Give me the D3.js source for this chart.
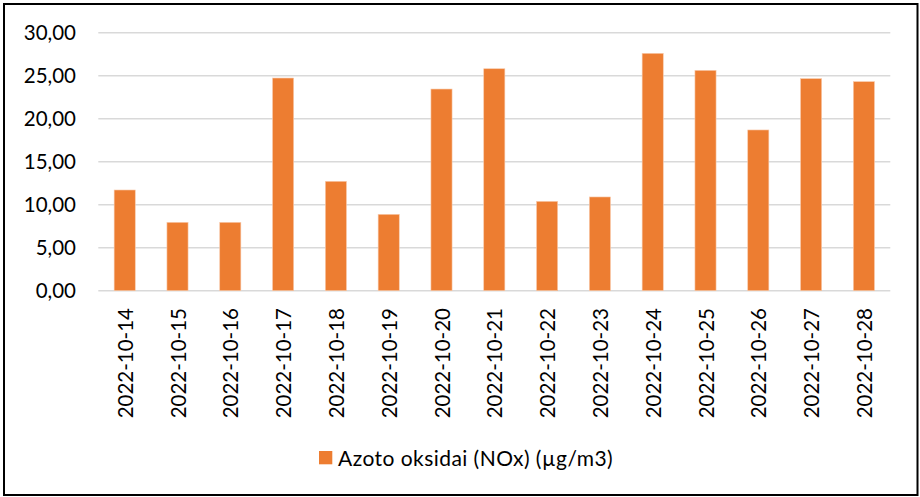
<!DOCTYPE html>
<html>
<head>
<meta charset="utf-8">
<script src="https://cdn.jsdelivr.net/npm/d3@7"></script>
<style>
  html, body { margin: 0; padding: 0; background: #fff; }
  svg { display: block; }
  text { font-family: Lato, "Open Sans", sans-serif; fill: #000; }
</style>
</head>
<body>
<svg id="chart" width="920" height="497"></svg>
<script>
const categories = ["2022-10-14","2022-10-15","2022-10-16","2022-10-17","2022-10-18","2022-10-19","2022-10-20","2022-10-21","2022-10-22","2022-10-23","2022-10-24","2022-10-25","2022-10-26","2022-10-27","2022-10-28"];
const values = [11.71, 7.95, 7.95, 24.73, 12.72, 8.88, 23.45, 25.81, 10.39, 10.90, 27.60, 25.62, 18.69, 24.66, 24.31];
const yTicks = [0, 5, 10, 15, 20, 25, 30];
const seriesName = "Azoto oksidai (NOx) (µg/m3)";
const barColor = "#ED7D31";

const svg = d3.select("#chart");
const plot = { left: 98.3, right: 890.3, top: 32.7, bottom: 290.7 };

// border
svg.append("rect")
  .attr("x", 4).attr("y", 4)
  .attr("width", 913.5).attr("height", 491)
  .attr("fill", "#fff").attr("stroke", "#000").attr("stroke-width", 2);

const x = d3.scaleBand().domain(categories)
  .range([plot.left, plot.right]).paddingInner(0.6).paddingOuter(0.3);
const y = d3.scaleLinear().domain([0, 30]).range([plot.bottom, plot.top]);

// gridlines
svg.append("g").selectAll("line").data(yTicks).join("line")
  .attr("x1", plot.left).attr("x2", plot.right)
  .attr("y1", d => y(d)).attr("y2", d => y(d))
  .attr("stroke", "#D9D9D9").attr("stroke-width", 1.5);

// y axis labels
const fmt = d => d3.format(".2f")(d).replace(".", ",");
svg.append("g").selectAll("text").data(yTicks).join("text")
  .attr("x", 76).attr("y", d => y(d))
  .attr("dy", "0.36em")
  .attr("text-anchor", "end")
  .attr("font-size", 20.5)
  .text(fmt);

// bars
svg.append("g").selectAll("rect").data(values).join("rect")
  .attr("x", (d, i) => x(categories[i]))
  .attr("width", x.bandwidth())
  .attr("y", d => y(d))
  .attr("height", d => y(0) - y(d))
  .attr("fill", barColor)
  .attr("stroke", "#F8CBAD").attr("stroke-width", 0.6);

// x labels
svg.append("g").selectAll("text").data(categories).join("text")
  .attr("transform", d => `translate(${x(d) + x.bandwidth() / 2 + 0.8},308) rotate(-90)`)
  .attr("dy", "0.36em")
  .attr("text-anchor", "end")
  .attr("font-size", 20.5)
  .text(d => d);

// legend
const lg = svg.append("g");
lg.append("rect").attr("x", 319).attr("y", 451).attr("width", 13.3).attr("height", 13.3).attr("fill", barColor);
lg.append("text").attr("x", 338).attr("y", 466).attr("font-size", 21)
  .attr("letter-spacing", 0.45).text(seriesName);
</script>
</body>
</html>
